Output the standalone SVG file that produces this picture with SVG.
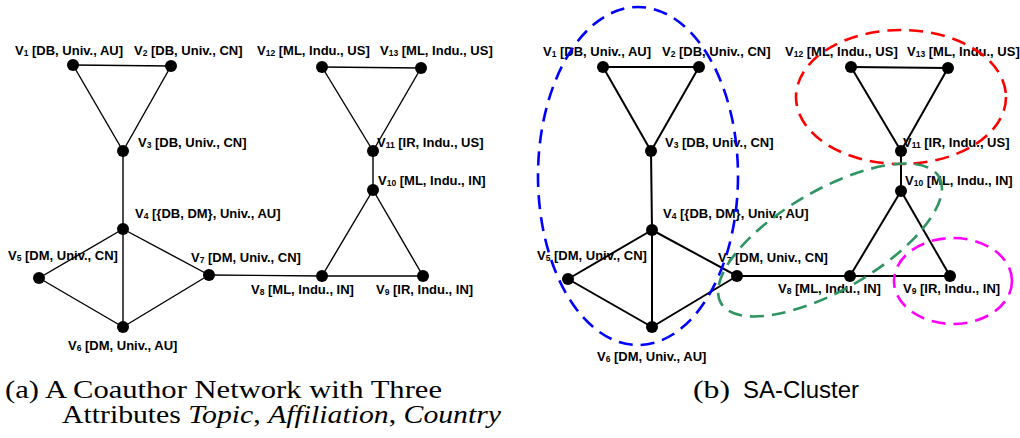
<svg xmlns="http://www.w3.org/2000/svg" width="1020" height="438" viewBox="0 0 1020 438">
<style>
.lbl{font-family:"Liberation Sans",Arial,sans-serif;font-weight:bold;font-size:13px;fill:#000}
.sub{font-size:8.5px}
.n{fill:#000}
.ea line{stroke:#000;stroke-width:1.4}
.eb line{stroke:#000;stroke-width:2}
.cl{fill:none;stroke-width:2.6;stroke-dasharray:14 8}
.cap{font-family:"Liberation Serif","Times New Roman",serif;font-size:25px;fill:#000}
.caps{font-family:"Liberation Sans",Arial,sans-serif;font-size:24px;fill:#000}
</style>
<rect width="1020" height="438" fill="#fff"/>
<g id="connectors">
<g class="ea">
<line x1="73" y1="65" x2="171" y2="66"/>
<line x1="73" y1="65" x2="123" y2="151"/>
<line x1="171" y1="66" x2="123" y2="151"/>
<line x1="123" y1="151" x2="123" y2="229"/>
<line x1="123" y1="229" x2="39" y2="278"/>
<line x1="123" y1="229" x2="123" y2="327"/>
<line x1="123" y1="229" x2="209" y2="275"/>
<line x1="39" y1="278" x2="123" y2="327"/>
<line x1="123" y1="327" x2="209" y2="275"/>
<line x1="209" y1="275" x2="322" y2="276"/>
<line x1="322" y1="276" x2="423" y2="276"/>
<line x1="322" y1="276" x2="373" y2="190"/>
<line x1="423" y1="276" x2="373" y2="190"/>
<line x1="373" y1="190" x2="373" y2="151"/>
<line x1="373" y1="151" x2="322" y2="67"/>
<line x1="373" y1="151" x2="421" y2="68"/>
<line x1="322" y1="67" x2="421" y2="68"/>
</g>
<g class="eb">
<line x1="603" y1="67" x2="699" y2="67"/>
<line x1="603" y1="67" x2="651" y2="151"/>
<line x1="699" y1="67" x2="651" y2="151"/>
<line x1="651" y1="151" x2="652" y2="230"/>
<line x1="652" y1="230" x2="568" y2="279"/>
<line x1="652" y1="230" x2="652" y2="327"/>
<line x1="652" y1="230" x2="737" y2="276"/>
<line x1="568" y1="279" x2="652" y2="327"/>
<line x1="652" y1="327" x2="737" y2="276"/>
<line x1="737" y1="276" x2="850" y2="276"/>
<line x1="850" y1="276" x2="950" y2="276"/>
<line x1="850" y1="276" x2="901" y2="191"/>
<line x1="950" y1="276" x2="901" y2="191"/>
<line x1="901" y1="191" x2="901" y2="151"/>
<line x1="901" y1="151" x2="851" y2="67"/>
<line x1="901" y1="151" x2="948" y2="68"/>
<line x1="851" y1="67" x2="948" y2="68"/>
</g>
</g>
<!-- left graph nodes -->
<g id="a-v1"><circle class="n" cx="73" cy="65" r="6"/><text class="lbl" x="15" y="55">V<tspan class="sub" dy="1">1</tspan><tspan dy="-1"> [DB, Univ., AU]</tspan></text></g>
<g id="a-v2"><circle class="n" cx="171" cy="66" r="6"/><text class="lbl" x="134" y="55">V<tspan class="sub" dy="1">2</tspan><tspan dy="-1"> [DB, Univ., CN]</tspan></text></g>
<g id="a-v3"><circle class="n" cx="123" cy="151" r="6"/><text class="lbl" x="138" y="147">V<tspan class="sub" dy="1">3</tspan><tspan dy="-1"> [DB, Univ., CN]</tspan></text></g>
<g id="a-v4"><circle class="n" cx="123" cy="229" r="6"/><text class="lbl" x="135" y="218">V<tspan class="sub" dy="1">4</tspan><tspan dy="-1"> [{DB, DM}, Univ., AU]</tspan></text></g>
<g id="a-v5"><circle class="n" cx="39" cy="278" r="6"/><text class="lbl" x="8" y="260">V<tspan class="sub" dy="1">5</tspan><tspan dy="-1"> [DM, Univ., CN]</tspan></text></g>
<g id="a-v6"><circle class="n" cx="123" cy="327" r="6"/><text class="lbl" x="68" y="350">V<tspan class="sub" dy="1">6</tspan><tspan dy="-1"> [DM, Univ., AU]</tspan></text></g>
<g id="a-v7"><circle class="n" cx="209" cy="275" r="6"/><text class="lbl" x="191" y="262">V<tspan class="sub" dy="1">7</tspan><tspan dy="-1"> [DM, Univ., CN]</tspan></text></g>
<g id="a-v8"><circle class="n" cx="322" cy="276" r="6"/><text class="lbl" x="251" y="294">V<tspan class="sub" dy="1">8</tspan><tspan dy="-1"> [ML, Indu., IN]</tspan></text></g>
<g id="a-v9"><circle class="n" cx="423" cy="276" r="6"/><text class="lbl" x="376" y="294">V<tspan class="sub" dy="1">9</tspan><tspan dy="-1"> [IR, Indu., IN]</tspan></text></g>
<g id="a-v10"><circle class="n" cx="373" cy="190" r="6"/><text class="lbl" x="378" y="185">V<tspan class="sub" dy="1">10</tspan><tspan dy="-1"> [ML, Indu., IN]</tspan></text></g>
<g id="a-v11"><circle class="n" cx="373" cy="151" r="6"/><text class="lbl" x="377" y="147">V<tspan class="sub" dy="1">11</tspan><tspan dy="-1"> [IR, Indu., US]</tspan></text></g>
<g id="a-v12"><circle class="n" cx="322" cy="67" r="6"/><text class="lbl" x="257" y="55">V<tspan class="sub" dy="1">12</tspan><tspan dy="-1"> [ML, Indu., US]</tspan></text></g>
<g id="a-v13"><circle class="n" cx="421" cy="68" r="6"/><text class="lbl" x="380" y="55">V<tspan class="sub" dy="1">13</tspan><tspan dy="-1"> [ML, Indu., US]</tspan></text></g>
<!-- right graph nodes -->
<g id="b-v1"><circle class="n" cx="603" cy="67" r="6"/><text class="lbl" x="543" y="56">V<tspan class="sub" dy="1">1</tspan><tspan dy="-1"> [DB, Univ., AU]</tspan></text></g>
<g id="b-v2"><circle class="n" cx="699" cy="67" r="6"/><text class="lbl" x="662" y="56">V<tspan class="sub" dy="1">2</tspan><tspan dy="-1"> [DB, Univ., CN]</tspan></text></g>
<g id="b-v3"><circle class="n" cx="651" cy="151" r="6"/><text class="lbl" x="665" y="147">V<tspan class="sub" dy="1">3</tspan><tspan dy="-1"> [DB, Univ., CN]</tspan></text></g>
<g id="b-v4"><circle class="n" cx="652" cy="230" r="6"/><text class="lbl" x="663" y="218">V<tspan class="sub" dy="1">4</tspan><tspan dy="-1"> [{DB, DM}, Univ., AU]</tspan></text></g>
<g id="b-v5"><circle class="n" cx="568" cy="279" r="6"/><text class="lbl" x="537" y="260">V<tspan class="sub" dy="1">5</tspan><tspan dy="-1"> [DM, Univ., CN]</tspan></text></g>
<g id="b-v6"><circle class="n" cx="652" cy="327" r="6"/><text class="lbl" x="597" y="361">V<tspan class="sub" dy="1">6</tspan><tspan dy="-1"> [DM, Univ., AU]</tspan></text></g>
<g id="b-v7"><circle class="n" cx="737" cy="276" r="6"/><text class="lbl" x="718" y="262">V<tspan class="sub" dy="1">7</tspan><tspan dy="-1"> [DM, Univ., CN]</tspan></text></g>
<g id="b-v8"><circle class="n" cx="850" cy="276" r="6"/><text class="lbl" x="778" y="293">V<tspan class="sub" dy="1">8</tspan><tspan dy="-1"> [ML, Indu., IN]</tspan></text></g>
<g id="b-v9"><circle class="n" cx="950" cy="276" r="6"/><text class="lbl" x="903" y="293">V<tspan class="sub" dy="1">9</tspan><tspan dy="-1"> [IR, Indu., IN]</tspan></text></g>
<g id="b-v10"><circle class="n" cx="901" cy="191" r="6"/><text class="lbl" x="905" y="185">V<tspan class="sub" dy="1">10</tspan><tspan dy="-1"> [ML, Indu., IN]</tspan></text></g>
<g id="b-v11"><circle class="n" cx="901" cy="151" r="6"/><text class="lbl" x="903" y="147">V<tspan class="sub" dy="1">11</tspan><tspan dy="-1"> [IR, Indu., US]</tspan></text></g>
<g id="b-v12"><circle class="n" cx="851" cy="67" r="6"/><text class="lbl" x="785" y="56">V<tspan class="sub" dy="1">12</tspan><tspan dy="-1"> [ML, Indu., US]</tspan></text></g>
<g id="b-v13"><circle class="n" cx="948" cy="68" r="6"/><text class="lbl" x="907" y="56">V<tspan class="sub" dy="1">13</tspan><tspan dy="-1"> [ML, Indu., US]</tspan></text></g>
<!-- clusters -->
<g id="clusters">
<ellipse class="cl" cx="638" cy="176" rx="100" ry="169" stroke="#0000ff"/>
<ellipse class="cl" cx="901" cy="97" rx="105" ry="67" stroke="#ff0000"/>
<ellipse class="cl" cx="0" cy="0" rx="126" ry="50" stroke="#2e9462" transform="translate(830 240) rotate(-30)"/>
<ellipse class="cl" cx="953" cy="281" rx="59" ry="43" stroke="#ff00ff"/>
</g>
<!-- captions -->
<g id="captions">
<text class="cap" x="5" y="398" textLength="437" lengthAdjust="spacingAndGlyphs">(a) A Coauthor Network with Three</text>
<text class="cap" x="62" y="423" textLength="439" lengthAdjust="spacingAndGlyphs">Attributes <tspan font-style="italic">Topic</tspan>, <tspan font-style="italic">Affiliation</tspan>, <tspan font-style="italic">Country</tspan></text>
<text class="cap" x="693" y="398" textLength="37" lengthAdjust="spacingAndGlyphs">(b)</text>
<text class="caps" x="743" y="398">SA-Cluster</text>
</g>
</svg>
